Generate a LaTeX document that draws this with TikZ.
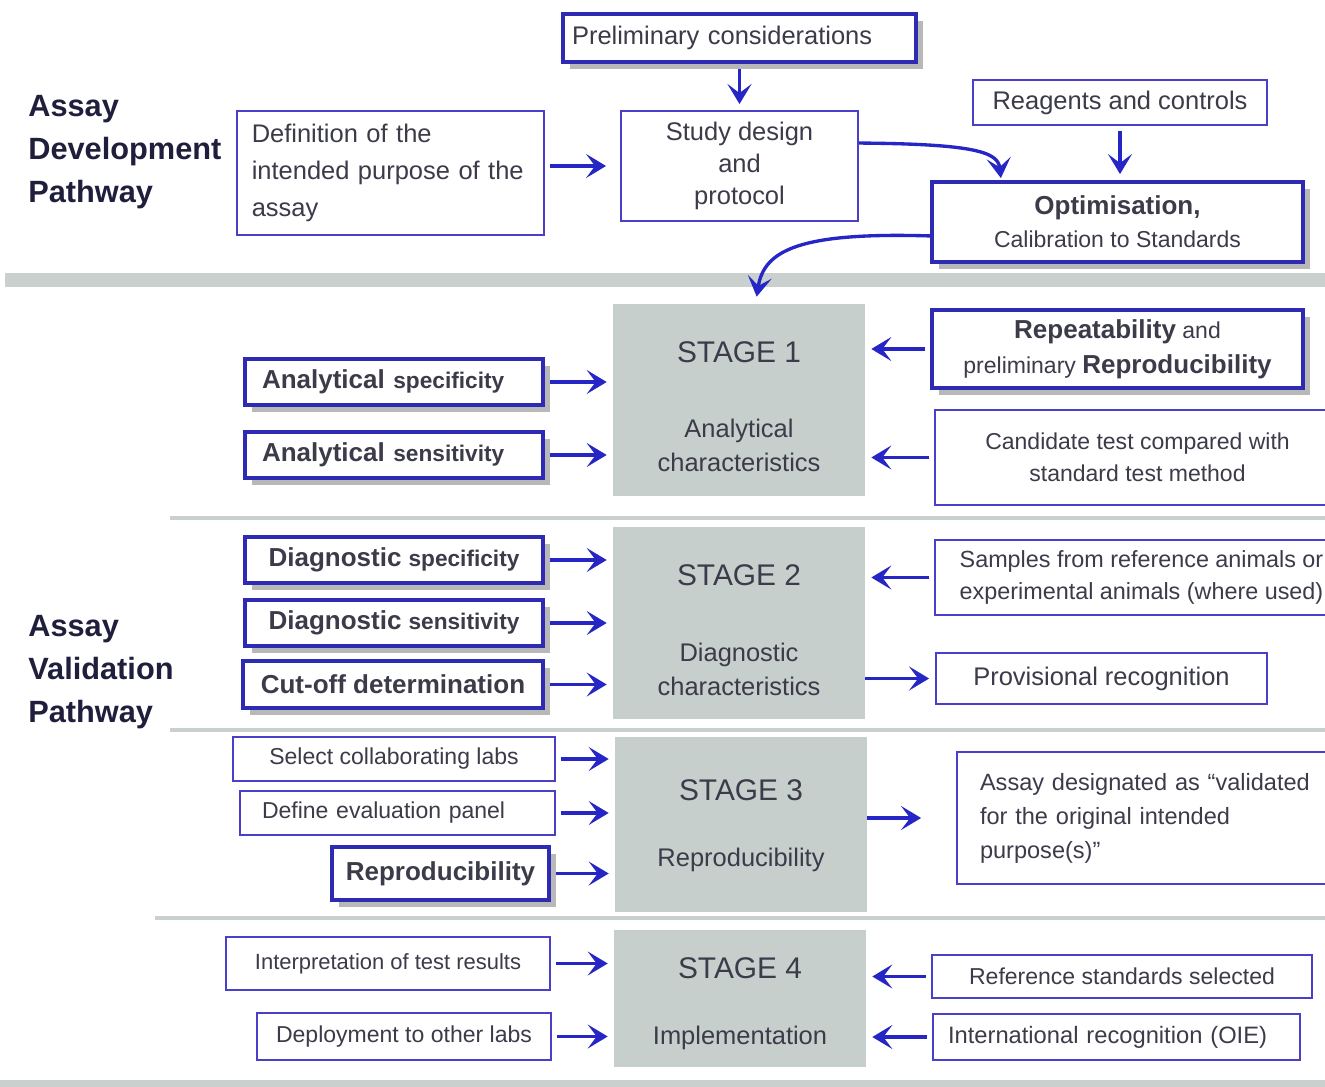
\documentclass[tikz,border=0pt]{standalone}
\usepackage{fontspec}
\setmainfont{Liberation Sans}
\usetikzlibrary{arrows.meta,shadows,calc}
\definecolor{boxblue}{HTML}{4A3FC8}
\definecolor{deepblue}{HTML}{2E2AB4}
\definecolor{arrowblue}{HTML}{2626C6}
\definecolor{stagegray}{HTML}{C7CFCC}
\definecolor{sepgray}{HTML}{C9D0CD}
\definecolor{txtgray}{HTML}{3B3B4A}
\definecolor{headnavy}{HTML}{1F1F3D}
\tikzset{>={Stealth[length=4mm,width=4.8mm,inset=1.8mm]}}
\tikzset{
  plainbox/.style={draw=boxblue, line width=1.1pt, fill=white, text=txtgray, inner sep=0pt, align=center, font=\fontsize{14.5}{17.5}\selectfont},
  boldbox/.style={plainbox, draw=deepblue, line width=2.2pt, drop shadow={shadow xshift=0.14cm, shadow yshift=-0.14cm, fill=black!55}},
  stagebox/.style={fill=stagegray, inner sep=0pt},
  stagetitle/.style={text=txtgray, font=\fontsize{17}{20}\selectfont},
  stagetext/.style={text=txtgray, align=center, font=\fontsize{14.5}{19.3}\selectfont},
  heading/.style={anchor=west, inner sep=0pt, align=left, text=headnavy, font=\bfseries\fontsize{17.5}{24.4}\selectfont},
  flow/.style={->, draw=arrowblue, line width=1.9pt, shorten >=0.12cm, shorten <=0.1cm},
  divider/.style={draw=sepgray, line width=0.08cm},
}
\newcommand{\bigb}[1]{{\bfseries\fontsize{14.8}{17.5}\selectfont #1}}
\newcommand{\smallb}[1]{{\bfseries\fontsize{12.9}{17.5}\selectfont #1}}

\begin{document}
\begin{tikzpicture}[x=0.02cm, y=-0.02cm]
        \useasboundingbox (0,0) rectangle (1325,1087);
        \fill[white] (0,0) rectangle (1325,1087);
        \clip (0,0) rectangle (1325,1087);

        % bands between the pathways and stages
        \draw[sepgray, line width=0.28cm] (5,280) -- (1325,280);
        \draw[divider] (170,518) -- (1325,518);
        \draw[divider] (170,730) -- (1325,730);
        \draw[divider] (155,918) -- (1325,918);
        \draw[sepgray, line width=0.16cm] (0,1084) -- (1325,1084);

        \node[heading] (devpath) at (28,152) {Assay\\Development\\Pathway};
        \node[heading] (valpath) at (28,672) {Assay\\Validation\\Pathway};

        % development pathway
        \node[boldbox, minimum width=7.06cm, minimum height=0.96cm, text width=6.7cm, align=left] (prelim) at (739.5,38) {Preliminary considerations};
        \node[plainbox, minimum width=6.14cm, minimum height=2.48cm, text width=5.55cm, align=left, font=\fontsize{14.5}{21}\selectfont] (purpose) at (390.5,173) {Definition of the\\intended purpose of the\\assay};
        \node[plainbox, minimum width=4.74cm, minimum height=2.2cm, font=\fontsize{14.5}{18}\selectfont] (study) at (739.5,166) {Study design\\and\\protocol};
        \node[plainbox, minimum width=5.88cm, minimum height=0.9cm] (reag) at (1120,102.5) {Reagents and controls};
        \node[boldbox, minimum width=7.42cm, minimum height=1.6cm, font=\fontsize{13.1}{18.8}\selectfont] (optim) at (1117.5,222) {\bigb{Optimisation,}\\Calibration to Standards};

        % stages
        \node[stagebox, minimum width=5.04cm, minimum height=3.84cm] (s1) at (739,400) {};
        \node[stagetitle] (s1t) at (739,352) {STAGE 1};
        \node[stagetext] (s1s) at (739,445) {Analytical\\characteristics};
        \node[stagebox, minimum width=5.04cm, minimum height=3.84cm] (s2) at (739,623) {};
        \node[stagetitle] (s2t) at (739,575) {STAGE 2};
        \node[stagetext] (s2s) at (739,669) {Diagnostic\\characteristics};
        \node[stagebox, minimum width=5.04cm, minimum height=3.5cm] (s3) at (741,824.5) {};
        \node[stagetitle] (s3t) at (741,790) {STAGE 3};
        \node[stagetext] (s3s) at (741,860) {Reproducibility};
        \node[stagebox, minimum width=5.04cm, minimum height=2.74cm] (s4) at (740,998.5) {};
        \node[stagetitle] (s4t) at (740,968) {STAGE 4};
        \node[stagetext] (s4s) at (740,1038) {Implementation};

        % inputs on the left
        \node[boldbox, minimum width=5.96cm, minimum height=0.92cm, text width=5.28cm, align=left] (aspec) at (394,382) {\bigb{Analytical} \smallb{specificity}};
        \node[boldbox, minimum width=5.96cm, minimum height=0.92cm, text width=5.28cm, align=left] (asens) at (394,455) {\bigb{Analytical} \smallb{sensitivity}};
        \node[boldbox, minimum width=5.96cm, minimum height=0.92cm] (dspec) at (394,560) {\bigb{Diagnostic} \smallb{specificity}};
        \node[boldbox, minimum width=5.96cm, minimum height=0.92cm] (dsens) at (394,623) {\bigb{Diagnostic} \smallb{sensitivity}};
        \node[boldbox, minimum width=6cm, minimum height=0.94cm] (cutoff) at (393,684.5) {\bigb{Cut-off determination}};
        \node[plainbox, minimum width=6.44cm, minimum height=0.88cm, font=\fontsize{13.1}{16}\selectfont] (labs) at (394,759) {Select collaborating labs};
        \node[plainbox, minimum width=6.3cm, minimum height=0.88cm, text width=5.42cm, align=left, font=\fontsize{13.1}{16}\selectfont] (panel) at (397.5,813) {Define evaluation panel};
        \node[boldbox, minimum width=4.34cm, minimum height=1.06cm] (repro) at (440.5,873.5) {\bigb{Reproducibility}};
        \node[plainbox, minimum width=6.48cm, minimum height=1.06cm, font=\fontsize{12.5}{15}\selectfont] (interp) at (388,963.5) {Interpretation of test results};
        \node[plainbox, minimum width=5.88cm, minimum height=0.94cm, font=\fontsize{13.1}{16}\selectfont] (deploy) at (404,1036.5) {Deployment to other labs};

        % inputs and outputs on the right
        \node[boldbox, minimum width=7.42cm, minimum height=1.56cm, font=\fontsize{13.1}{19.9}\selectfont] (repeat) at (1117.5,349) {\bigb{Repeatability} and\\preliminary \bigb{Reproducibility}};
        \node[plainbox, minimum width=8.1cm, minimum height=1.9cm, font=\fontsize{13.1}{18.2}\selectfont] (cand) at (1137.5,457.5) {Candidate test compared with\\standard test method};
        \node[plainbox, minimum width=8.26cm, minimum height=1.5cm, font=\fontsize{13.3}{18.2}\selectfont] (samples) at (1141.5,577.5) {Samples from reference animals or\\experimental animals (where used)};
        \node[plainbox, minimum width=6.62cm, minimum height=1.02cm] (prov) at (1101.5,678.5) {Provisional recognition};
        \node[plainbox, minimum width=7.76cm, minimum height=2.64cm, text width=6.84cm, align=left, font=\fontsize{13.4}{19.3}\selectfont] (valid) at (1151,818) {Assay designated as “validated\\for the original intended\\purpose(s)”};
        \node[plainbox, minimum width=7.6cm, minimum height=0.86cm, font=\fontsize{13.1}{16}\selectfont] (refstd) at (1122,976.5) {Reference standards selected};
        \node[plainbox, minimum width=7.34cm, minimum height=0.92cm, text width=6.74cm, align=left, font=\fontsize{13.5}{16}\selectfont] (oie) at (1116.5,1037) {International recognition (OIE)};

        % connectors
        \draw[flow] (prelim) -- (study);
        \draw[flow, shorten >=0.28cm] (purpose.east |- study.west) -- (study.west);
        \draw[flow] (reag.south) -- (reag.south |- optim.north);
        \draw[flow, shorten >=0.04cm, shorten <=0pt] ($(study.north east)+(0,33)$) .. controls (975,144) and (998,152) .. ($(optim.north west)+(71,0)$);
        \draw[flow, shorten >=0pt, shorten <=0pt] ($(optim.south west)+(0,-28)$) .. controls (800,232) and (764,250) .. ($(s1.north west)+(144,-7)$);

        \draw[flow] (aspec.east) -- (aspec.east -| s1.west);
        \draw[flow] (asens.east) -- (asens.east -| s1.west);
        \draw[flow] (repeat.west) -- (repeat.west -| s1.east);
        \draw[flow] (cand.west) -- (cand.west -| s1.east);

        \draw[flow] (dspec.east) -- (dspec.east -| s2.west);
        \draw[flow] (dsens.east) -- (dsens.east -| s2.west);
        \draw[flow] (cutoff.east) -- (cutoff.east -| s2.west);
        \draw[flow] (samples.west) -- (samples.west -| s2.east);
        \draw[flow, shorten <=0pt] (s2.east |- prov.west) -- (prov.west);

        \draw[flow] (labs.east) -- (labs.east -| s3.west);
        \draw[flow] (panel.east) -- (panel.east -| s3.west);
        \draw[flow] (repro.east) -- (repro.east -| s3.west);
        \draw[flow, shorten <=0pt, shorten >=0.7cm] (s3.east |- valid.west) -- (valid.west);

        \draw[flow] (interp.east) -- (interp.east -| s4.west);
        \draw[flow] (deploy.east) -- (deploy.east -| s4.west);
        \draw[flow] (refstd.west) -- (refstd.west -| s4.east);
        \draw[flow] (oie.west) -- (oie.west -| s4.east);
\end{tikzpicture}
\end{document}
